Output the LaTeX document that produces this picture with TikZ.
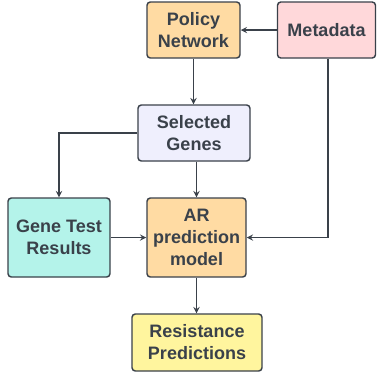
\documentclass[tikz,border=0pt]{standalone}
\usepackage{fontspec}
\setmainfont{Liberation Sans}
\usetikzlibrary{positioning}
\definecolor{ink}{HTML}{3A414A}
\definecolor{orangebox}{HTML}{FFDBA3}
\definecolor{pinkbox}{HTML}{FFD8DA}
\definecolor{lilacbox}{HTML}{EFEFFD}
\definecolor{tealbox}{HTML}{B4F3EA}
\definecolor{yellowbox}{HTML}{FFF59E}
\tikzset{box/.style={draw=ink,line width=1.1pt,rounded corners=2.5pt,text=ink,align=center,inner sep=0pt,fill=#1}}
\tikzset{box/.default={white}}
\tikzset{arrow/.style={draw=ink,->,>=stealth,line width=1.1pt}}
\tikzset{font={\fontsize{13.5pt}{16.5pt}\selectfont\bfseries}}

\begin{document}
\begin{tikzpicture}[x=0.75pt,y=-0.75pt]
        \useasboundingbox (0,0) rectangle (377,376);
        \node[box=orangebox,minimum width=69.75pt,minimum height=42pt] (policy) at (193.5,30) {Policy\\Network};
        \node[box=pinkbox,minimum width=73.5pt,minimum height=42pt] (meta) at (326.5,30) {Metadata};
        \node[box=lilacbox,minimum width=84pt,minimum height=42pt] (genes) at (194,133) {Selected\\Genes};
        \node[box=tealbox,minimum width=76.5pt,minimum height=59.25pt] (test) at (59,237.5) {Gene Test\\Results};
        \node[box=orangebox,minimum width=74.25pt,minimum height=59.25pt] (model) at (196.5,237.5) {AR\\prediction\\model};
        \node[box=yellowbox,minimum width=97.5pt,minimum height=42.75pt] (pred) at (197,342.5) {Resistance\\Predictions};
        \path[arrow] (meta.west) -- (policy.east);
        \path[arrow] (policy.south) -- (policy.south |- genes.north);
        \path[arrow] (genes.west) -| (test.north);
        \path[arrow] (genes.south -| model.north) -- (model.north);
        \path[arrow] (test.east) -- (model.west);
        \path[arrow] ([xshift=1pt]meta.south) |- (model.east);
        \path[arrow] (model.south) -- (model.south |- pred.north);
    \end{tikzpicture}
\end{document}
